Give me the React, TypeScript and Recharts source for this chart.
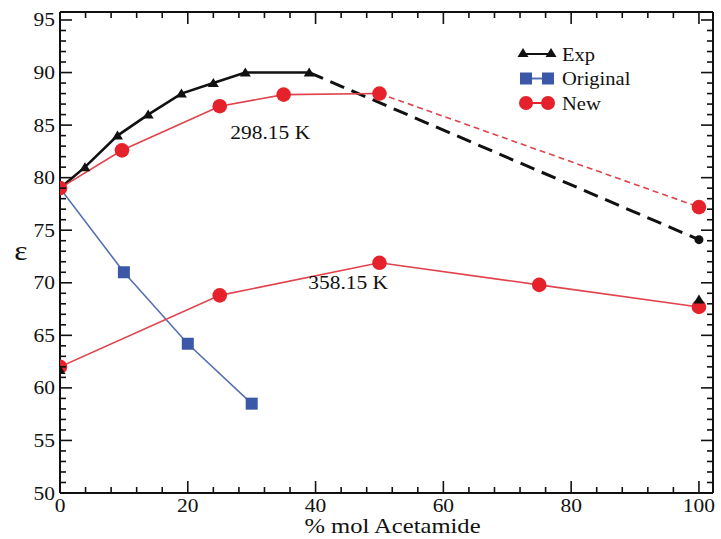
import React from 'react';
import { LineChart, Line, XAxis, YAxis, ReferenceDot, Label } from 'recharts';

// ---------- data ----------
const exp298 = [
  { x: 0, y: 79 }, { x: 3.9, y: 81 }, { x: 9, y: 84 }, { x: 13.8, y: 86 },
  { x: 19, y: 88 }, { x: 24, y: 89 }, { x: 29, y: 90 }, { x: 39, y: 90 },
];
const exp298Ext = [{ x: 39, y: 90 }, { x: 100, y: 74.1 }];
const exp358 = [{ x: 0, y: 61.7 }, { x: 100, y: 68.4 }];
const original = [{ x: 0, y: 79 }, { x: 10, y: 71 }, { x: 20, y: 64.2 }, { x: 30, y: 58.5 }];
const new298 = [{ x: 0, y: 79 }, { x: 9.7, y: 82.6 }, { x: 25, y: 86.8 }, { x: 35, y: 87.9 }, { x: 50, y: 88 }];
const new298Ext = [{ x: 50, y: 88 }, { x: 100, y: 77.2 }];
const new358 = [{ x: 0, y: 62 }, { x: 25, y: 68.8 }, { x: 50, y: 71.9 }, { x: 75, y: 69.8 }, { x: 100, y: 67.7 }];

const xMajor = [0, 20, 40, 60, 80, 100];
const xTicks = [0, 4, 8, 12, 16, 20, 24, 28, 32, 36, 40, 44, 48, 52, 56, 60, 64, 68, 72, 76, 80, 84, 88, 92, 96, 100];
const yMajor = [50, 55, 60, 65, 70, 75, 80, 85, 90, 95];
const yTicks = Array.from({ length: 46 }, (_, i) => 50 + i);

const legendItems = [
  { name: 'Exp', kind: 'tri' },
  { name: 'Original', kind: 'sq' },
  { name: 'New', kind: 'circ' },
];

const annotations = [
  { text: '298.15 K', x: 32.9, y: 84.25 },
  { text: '358.15 K', x: 45.1, y: 70.0 },
];

// ---------- styles ----------
const FONT = '"Liberation Serif", "Times New Roman", serif';
const BLACK = '#111111';
const BLUE = '#3b58a8';
const BLUE_LINE = '#5670b4';
const RED = '#e5222b';
const RED_LINE = '#e0434b';
const SX = 1.13;

const STxt = ({ x, y, size, anchor = 'middle', sx = SX, children }: any) => (
  <text
    transform={`translate(${x},${y}) scale(${sx},1)`}
    textAnchor={anchor}
    fontFamily={FONT}
    fontSize={size}
    fill="#111"
  >
    {children}
  </text>
);

const triPath = (cx: number, cy: number, s = 1) =>
  `M${cx},${cy - 5 * s}L${cx + 5.5 * s},${cy + 4 * s}L${cx - 5.5 * s},${cy + 4 * s}Z`;

const TriDot = (p: any) => {
  const { cx, cy, index } = p;
  if (cx == null || cy == null) return <g key={`tn${index}`} />;
  return <path key={`t${index}`} d={triPath(cx, cy)} fill={BLACK} />;
};
const SqDot = (p: any) => {
  const { cx, cy, index } = p;
  if (cx == null || cy == null || index === 0) return <g key={`sn${index}`} />;
  return <rect key={`s${index}`} x={cx - 6} y={cy - 6} width={12} height={12} fill={BLUE} />;
};
const CircDot = (p: any) => {
  const { cx, cy, index } = p;
  if (cx == null || cy == null) return <g key={`cn${index}`} />;
  return <circle key={`c${index}`} cx={cx} cy={cy} r={7.3} fill={RED} />;
};
const LastCirc = (color: string, r: number) => (p: any) => {
  const { cx, cy, index } = p;
  if (cx == null || cy == null || index !== 1) return <g key={`ln${index}`} />;
  return <circle key={`l${index}`} cx={cx} cy={cy} r={r} fill={color} />;
};

const BottomTick = (p: any) => {
  const { x, y, payload } = p;
  const v = payload.value;
  const major = xMajor.includes(v);
  return (
    <g>
      <line x1={x} y1={y} x2={x} y2={y - (major ? 12 : 6)} stroke={BLACK} strokeWidth={1.6} />
      {major && (
        <STxt x={x} y={y + 19} size={19}>
          {v}
        </STxt>
      )}
    </g>
  );
};
const TopTick = (p: any) => {
  const { x, y, payload } = p;
  const major = xMajor.includes(payload.value);
  return <line x1={x} y1={y} x2={x} y2={y + (major ? 12 : 6)} stroke={BLACK} strokeWidth={1.6} />;
};
const LeftTick = (p: any) => {
  const { x, y, payload } = p;
  const v = payload.value;
  const major = yMajor.includes(v);
  return (
    <g>
      <line x1={x} y1={y} x2={x + (major ? 12 : 6)} y2={y} stroke={BLACK} strokeWidth={1.6} />
      {major && (
        <STxt x={x - 5} y={y + 6.5} size={19} anchor="end">
          {v}
        </STxt>
      )}
    </g>
  );
};
const RightTick = (p: any) => {
  const { x, y, payload } = p;
  const major = yMajor.includes(payload.value);
  return <line x1={x} y1={y} x2={x - (major ? 12 : 6)} y2={y} stroke={BLACK} strokeWidth={1.6} />;
};

const AnnLabel = (props: any) => {
  const { viewBox, text } = props;
  if (!viewBox) return null;
  return (
    <STxt x={viewBox.x + (viewBox.width || 0) / 2} y={viewBox.y + (viewBox.height || 0) / 2 + 6} size={19}>
      {text}
    </STxt>
  );
};

const XLabel = (props: any) => {
  const { viewBox } = props;
  if (!viewBox) return null;
  return (
    <STxt x={viewBox.x + viewBox.width / 2 + 6} y={viewBox.y + 40} size={20.5} sx={1.2}>
      % mol Acetamide
    </STxt>
  );
};
const YLabel = (props: any) => {
  const { viewBox } = props;
  if (!viewBox) return null;
  return (
    <STxt x={viewBox.x + viewBox.width - 39} y={viewBox.y + viewBox.height / 2 + 7} size={28}>
      ε
    </STxt>
  );
};

const LegendBox = () => (
  <svg width={140} height={90} style={{ position: 'absolute', left: 510, top: 38 }}>
    {legendItems.map((it, i) => {
      const cy = 16 + i * 24.5;
      const x1 = 11;
      const x2 = 43;
      const col = it.kind === 'tri' ? BLACK : it.kind === 'sq' ? BLUE : RED;
      return (
        <g key={it.name}>
          <line x1={x1} y1={cy} x2={x2} y2={cy} stroke={it.kind === 'sq' ? BLUE_LINE : col} strokeWidth={2} />
          {it.kind === 'tri' && (
            <>
              <path d={triPath(x1 + 2, cy - 1)} fill={BLACK} />
              <path d={triPath(x2 - 2, cy - 1)} fill={BLACK} />
            </>
          )}
          {it.kind === 'sq' && (
            <>
              <rect x={x1 - 1} y={cy - 6} width={12} height={12} fill={BLUE} />
              <rect x={x2 - 11} y={cy - 6} width={12} height={12} fill={BLUE} />
            </>
          )}
          {it.kind === 'circ' && (
            <>
              <circle cx={x1 + 5} cy={cy} r={7} fill={RED} />
              <circle cx={x2 - 5} cy={cy} r={7} fill={RED} />
            </>
          )}
          <STxt x={52} y={cy + 6.5} size={19} anchor="start" sx={1.08}>
            {it.name}
          </STxt>
        </g>
      );
    })}
  </svg>
);

export default function App() {
  return (
    <div style={{ position: 'absolute', left: 0, top: 0, width: 721, height: 539, background: '#fff' }}>
      <LineChart width={721} height={539} margin={{ top: 0, right: 0, bottom: 0, left: 0 }}>
        <XAxis
          xAxisId="b"
          dataKey="x"
          type="number"
          orientation="bottom"
          domain={[0, 102.2]}
          ticks={xTicks}
          interval={0}
          height={46}
          tickSize={0}
          tickMargin={0}
          tickLine={false}
          tick={<BottomTick />}
          axisLine={{ stroke: BLACK, strokeWidth: 2 }}
          allowDataOverflow
        >
          <Label content={<XLabel />} />
        </XAxis>
        <XAxis
          xAxisId="t"
          dataKey="x"
          type="number"
          orientation="top"
          domain={[0, 102.2]}
          ticks={xTicks}
          interval={0}
          height={12}
          tickSize={0}
          tickMargin={0}
          tickLine={false}
          tick={<TopTick />}
          axisLine={{ stroke: BLACK, strokeWidth: 2 }}
          allowDataOverflow
        />
        <YAxis
          yAxisId="l"
          type="number"
          orientation="left"
          domain={[50, 95.76]}
          ticks={yTicks}
          interval={0}
          width={60}
          tickSize={0}
          tickMargin={0}
          tickLine={false}
          tick={<LeftTick />}
          axisLine={{ stroke: BLACK, strokeWidth: 2 }}
          allowDataOverflow
        >
          <Label content={<YLabel />} />
        </YAxis>
        <YAxis
          yAxisId="r"
          type="number"
          orientation="right"
          domain={[50, 95.76]}
          ticks={yTicks}
          interval={0}
          width={8}
          tickSize={0}
          tickMargin={0}
          tickLine={false}
          tick={<RightTick />}
          axisLine={{ stroke: BLACK, strokeWidth: 2 }}
          allowDataOverflow
        />

        <Line xAxisId="b" yAxisId="l" data={original} dataKey="y" type="linear" stroke={BLUE_LINE} strokeWidth={1.6} dot={SqDot} activeDot={false} isAnimationActive={false} />
        <Line xAxisId="b" yAxisId="l" data={exp298Ext} dataKey="y" type="linear" stroke={BLACK} strokeWidth={3} strokeDasharray="15 8" dot={LastCirc(BLACK, 4.5)} activeDot={false} isAnimationActive={false} />
        <Line xAxisId="b" yAxisId="l" data={new298Ext} dataKey="y" type="linear" stroke={RED_LINE} strokeWidth={1.6} strokeDasharray="6 4" dot={LastCirc(RED, 7.3)} activeDot={false} isAnimationActive={false} />
        <Line xAxisId="b" yAxisId="l" data={exp298} dataKey="y" type="linear" stroke={BLACK} strokeWidth={2.6} dot={TriDot} activeDot={false} isAnimationActive={false} />
        <Line xAxisId="b" yAxisId="l" data={new358} dataKey="y" type="linear" stroke={RED_LINE} strokeWidth={1.6} dot={CircDot} activeDot={false} isAnimationActive={false} />
        <Line xAxisId="b" yAxisId="l" data={exp358} dataKey="y" type="linear" stroke="none" dot={TriDot} activeDot={false} isAnimationActive={false} />
        <Line xAxisId="b" yAxisId="l" data={new298} dataKey="y" type="linear" stroke={RED_LINE} strokeWidth={1.6} dot={CircDot} activeDot={false} isAnimationActive={false} />

        {annotations.map((a) => (
          <ReferenceDot
            key={a.text}
            xAxisId="b"
            yAxisId="l"
            x={a.x}
            y={a.y}
            r={0}
            fill="none"
            stroke="none"
            label={<AnnLabel text={a.text} />}
          />
        ))}
      </LineChart>
      <LegendBox />
    </div>
  );
}
